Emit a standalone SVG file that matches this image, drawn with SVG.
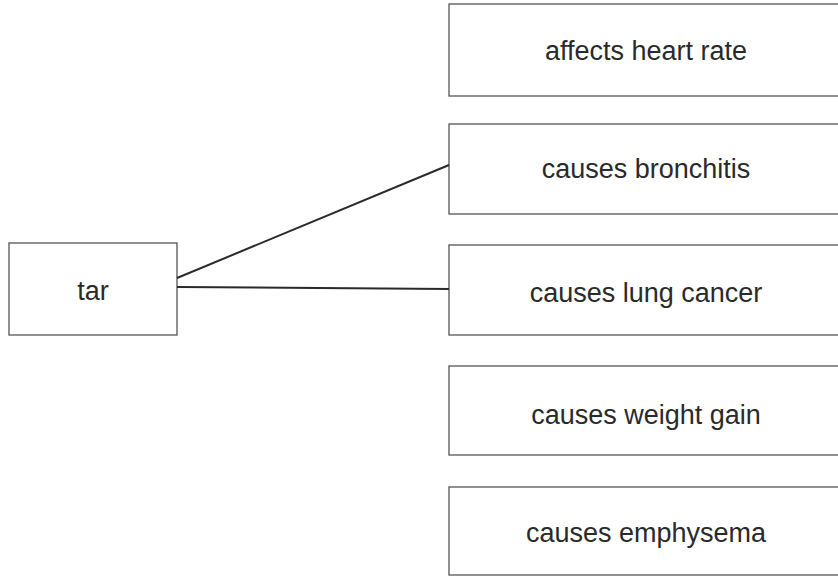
<svg xmlns="http://www.w3.org/2000/svg" width="838" height="577" viewBox="0 0 838 577">
<style>
.box{fill:#fff;stroke:#555;stroke-width:1.3}
.lbl{font-family:"Liberation Sans",Arial,sans-serif;font-size:27px;fill:#2a2a2a;text-anchor:middle}
.conn{stroke:#2a2a2a;stroke-width:2;fill:none}
</style>
<rect width="838" height="577" fill="#fff"/>
<g id="node-tar"><rect class="box" x="9" y="243" width="168" height="92"/><text class="lbl" x="93" y="300">tar</text></g>
<g id="node-heart"><rect class="box" x="449" y="4" width="400" height="92"/><text class="lbl" x="646" y="60">affects heart rate</text></g>
<g id="node-bronchitis"><rect class="box" x="449" y="124" width="400" height="90"/><text class="lbl" x="646" y="178">causes bronchitis</text></g>
<g id="node-lung"><rect class="box" x="449" y="245" width="400" height="90"/><text class="lbl" x="646" y="302">causes lung cancer</text></g>
<g id="node-weight"><rect class="box" x="449" y="366" width="400" height="89"/><text class="lbl" x="646" y="424">causes weight gain</text></g>
<g id="node-emphysema"><rect class="box" x="449" y="487" width="400" height="88"/><text class="lbl" x="646" y="542">causes emphysema</text></g>
<g id="connectors">
<line class="conn" x1="177" y1="278" x2="449" y2="165"/>
<line class="conn" x1="177" y1="287" x2="449" y2="289"/>
</g>
</svg>
